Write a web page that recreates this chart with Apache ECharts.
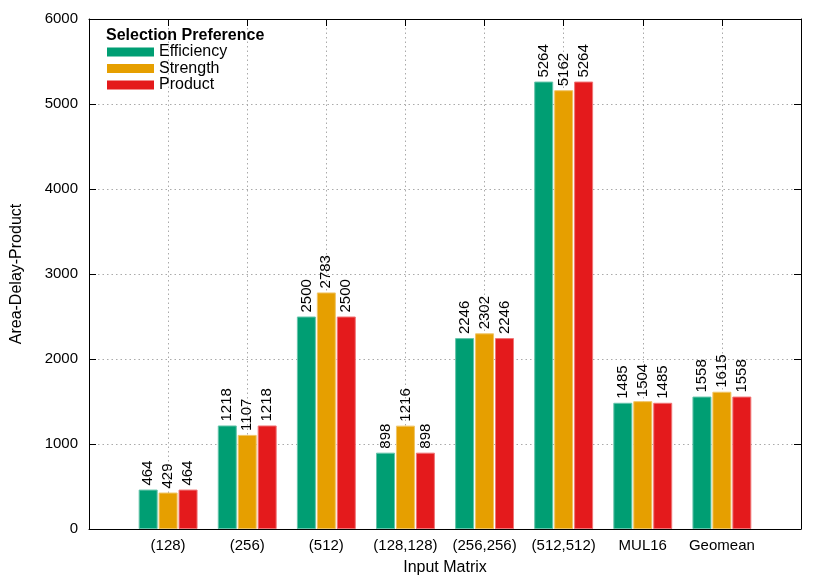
<!DOCTYPE html>
<html>
<head>
<meta charset="utf-8">
<script src="https://cdn.jsdelivr.net/npm/echarts@6/dist/echarts.min.js"></script>
<style>html,body{margin:0;padding:0;background:#fff}#c{width:830px;height:581px}</style>
</head>
<body>
<div id="c"></div>
<script>
const categories = ['(128)', '(256)', '(512)', '(128,128)', '(256,256)', '(512,512)', 'MUL16', 'Geomean'];
const efficiency = [464, 1218, 2500, 898, 2246, 5264, 1485, 1558];
const strength   = [429, 1107, 2783, 1216, 2302, 5162, 1504, 1615];
const product    = [464, 1218, 2500, 898, 2246, 5264, 1485, 1558];
const seriesNames = ['Efficiency', 'Strength', 'Product'];
const yTicks = [0, 1000, 2000, 3000, 4000, 5000, 6000];

const FONT = 'Liberation Sans, Arial, Helvetica, sans-serif';
const colors = ['#009e73', '#e69f00', '#e41a1c'];
const borders = ['#66c5ab', '#f0c566', '#ef7677'];
const axisData = [''].concat(categories, ['']);
const pad = arr => [null].concat(arr, [null]);
const dotted = { color: '#aaaaaa', width: 1, type: [1.5, 3] };
const tick = { show: true, inside: true, length: 7, lineStyle: { color: '#000', width: 1 } };

function barSeries(name, values, i) {
  return {
    name: name, type: 'bar', data: pad(values),
    barWidth: 19, barGap: '5%',
    itemStyle: { color: colors[i], borderColor: borders[i], borderWidth: 1 },
    label: {
      show: true, position: 'top', rotate: 90, align: 'left', verticalAlign: 'middle',
      distance: 4, fontSize: 15, fontFamily: FONT, color: '#000'
    }
  };
}

const chart = echarts.init(document.getElementById('c'), null, { renderer: 'canvas' });
chart.setOption({
  animation: false,
  color: colors,
  textStyle: { fontFamily: FONT },
  title: {
    text: 'Selection Preference', left: 106, top: 28, padding: 0,
    textStyle: { fontSize: 16, fontWeight: 'bold', color: '#000', fontFamily: FONT }
  },
  legend: {
    data: seriesNames, orient: 'vertical', left: 107, top: 44, padding: 0,
    icon: 'rect', itemWidth: 47, itemHeight: 9, itemGap: 0.5, itemStyle: { borderWidth: 0 },
    textStyle: { fontSize: 16, color: '#000', fontFamily: FONT, lineHeight: 15 }
  },
  grid: { left: 89, right: 29, top: 19, bottom: 51, containLabel: false },
  xAxis: [{
    type: 'category', data: axisData, boundaryGap: false,
    name: 'Input Matrix', nameLocation: 'middle', nameGap: 31,
    nameTextStyle: { fontSize: 16, color: '#000', fontFamily: FONT },
    axisLine: { onZero: false, lineStyle: { color: '#000', width: 1 } },
    axisTick: tick,
    axisLabel: { interval: 0, fontSize: 15, color: '#000', margin: 9, fontFamily: FONT },
    splitLine: { show: true, lineStyle: dotted }
  }, {
    type: 'category', data: axisData, boundaryGap: false, position: 'top',
    axisLine: { onZero: false, lineStyle: { color: '#000', width: 1 } },
    axisTick: tick,
    axisLabel: { show: false }, splitLine: { show: false }
  }],
  yAxis: [{
    type: 'value', min: yTicks[0], max: yTicks[yTicks.length - 1], interval: 1000,
    name: 'Area-Delay-Product', nameLocation: 'middle', nameGap: 64,
    nameTextStyle: { fontSize: 16, color: '#000', fontFamily: FONT },
    axisLine: { show: true, onZero: false, lineStyle: { color: '#000', width: 1 } },
    axisTick: tick,
    axisLabel: { fontSize: 15, color: '#000', margin: 11, fontFamily: FONT, formatter: v => String(v) },
    splitLine: { show: true, lineStyle: dotted }
  }, {
    type: 'value', min: yTicks[0], max: yTicks[yTicks.length - 1], interval: 1000, position: 'right',
    axisLine: { show: true, onZero: false, lineStyle: { color: '#000', width: 1 } },
    axisTick: tick,
    axisLabel: { show: false }, splitLine: { show: false }
  }],
  series: [
    barSeries(seriesNames[0], efficiency, 0),
    barSeries(seriesNames[1], strength, 1),
    barSeries(seriesNames[2], product, 2)
  ]
});
</script>
</body>
</html>
